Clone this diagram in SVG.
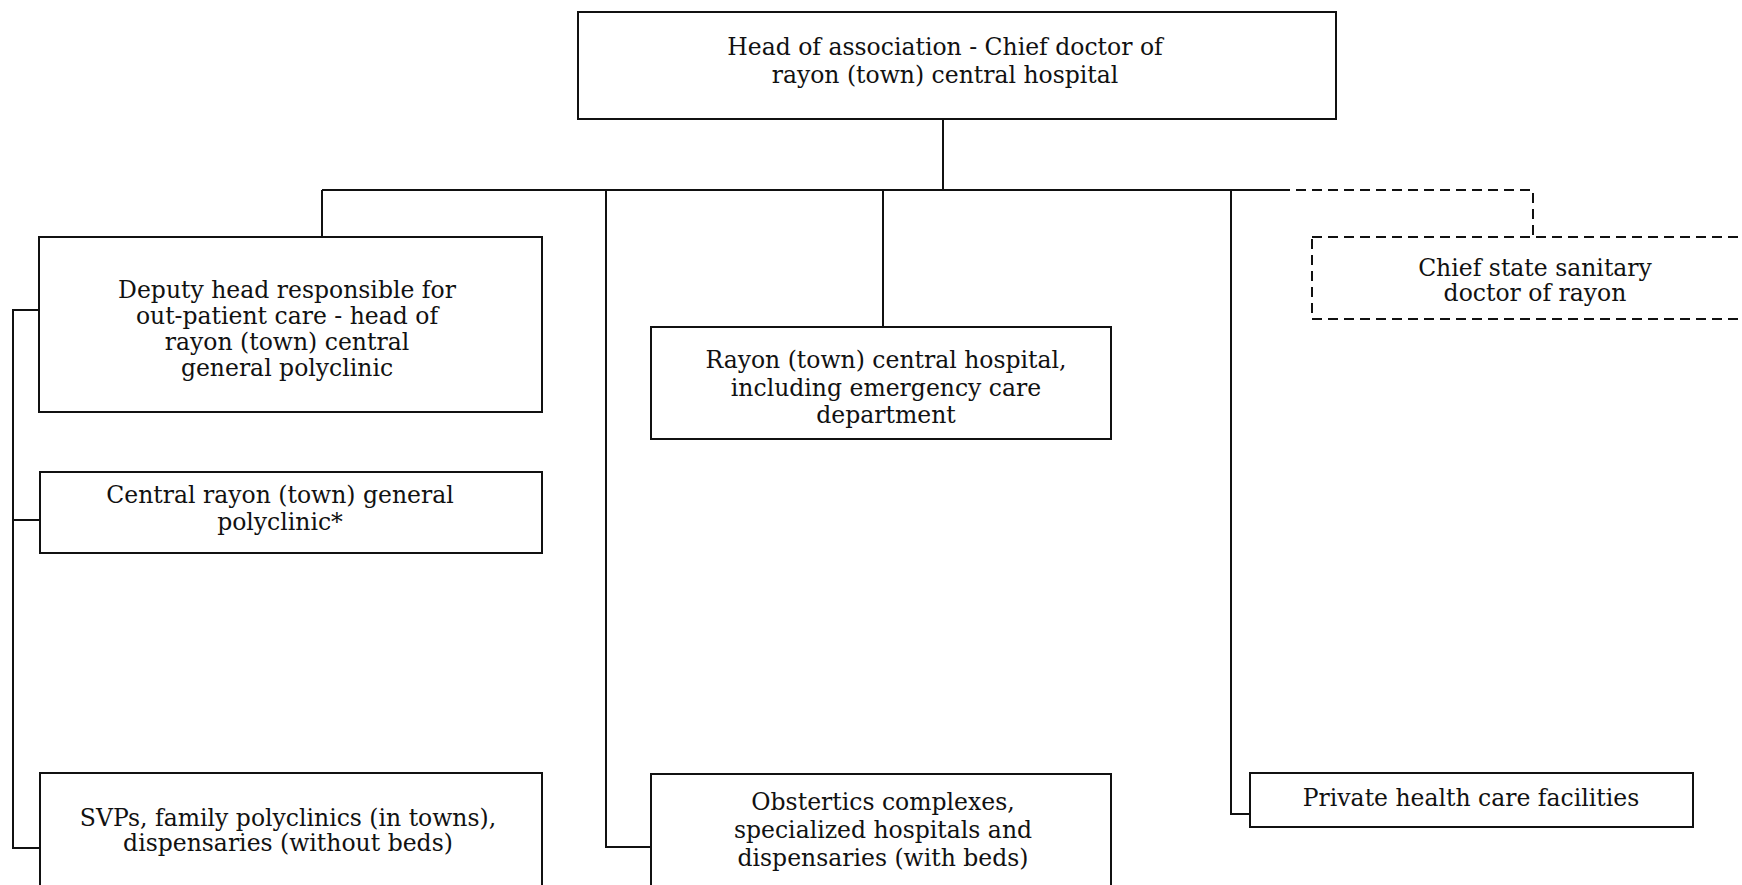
<svg xmlns="http://www.w3.org/2000/svg" width="1742" height="885" viewBox="0 0 1742 885">
  <style>
    .box { fill: #ffffff; stroke: #111111; stroke-width: 2; }
    .dash { fill: #ffffff; stroke: #111111; stroke-width: 2; stroke-dasharray: 10 6; }
    .wire { fill: none; stroke: #111111; stroke-width: 2; }
    .wire-dash { fill: none; stroke: #111111; stroke-width: 2; stroke-dasharray: 10 6; }
    text { font-family: "DejaVu Serif", "Liberation Serif", serif; font-size: 23.5px; fill: #111111; text-anchor: middle; }
  </style>
  <rect width="1742" height="885" fill="#ffffff"/>

  <!-- connectors -->
  <g id="connectors">
    <path class="wire" d="M943 119 V190"/>
    <path class="wire" d="M322 190 H1280"/>
    <path class="wire-dash" d="M1280 190 H1533 V237"/>
    <path class="wire" d="M322 190 V237"/>
    <path class="wire" d="M606 190 V847 H651"/>
    <path class="wire" d="M883 190 V327"/>
    <path class="wire" d="M1231 190 V814 H1250"/>
    <path class="wire" d="M39 310 H13 V848 H40"/>
    <path class="wire" d="M13 520 H40"/>
  </g>

  <!-- head of association -->
  <g id="head">
    <rect class="box" x="578" y="12" width="758" height="107"/>
    <text x="945" y="55">Head of association - Chief doctor of</text>
    <text x="945" y="83">rayon (town) central hospital</text>
  </g>

  <!-- deputy head -->
  <g id="deputy">
    <rect class="box" x="39" y="237" width="503" height="175"/>
    <text x="287" y="298">Deputy head responsible for</text>
    <text x="287" y="324">out-patient care - head of</text>
    <text x="287" y="350">rayon (town) central</text>
    <text x="287" y="376">general polyclinic</text>
  </g>

  <!-- central polyclinic -->
  <g id="central-polyclinic">
    <rect class="box" x="40" y="472" width="502" height="81"/>
    <text x="280" y="503">Central rayon (town) general</text>
    <text x="280" y="530">polyclinic*</text>
  </g>

  <!-- SVPs -->
  <g id="svps">
    <rect class="box" x="40" y="773" width="502" height="140"/>
    <text x="288" y="826">SVPs, family polyclinics (in towns),</text>
    <text x="288" y="851">dispensaries (without beds)</text>
  </g>

  <!-- central hospital -->
  <g id="central-hospital">
    <rect class="box" x="651" y="327" width="460" height="112"/>
    <text x="886" y="368">Rayon (town) central hospital,</text>
    <text x="886" y="396">including emergency care</text>
    <text x="886" y="423">department</text>
  </g>

  <!-- obstetrics -->
  <g id="obstetrics">
    <rect class="box" x="651" y="774" width="460" height="140"/>
    <text x="883" y="810">Obstertics complexes,</text>
    <text x="883" y="838">specialized hospitals and</text>
    <text x="883" y="866">dispensaries (with beds)</text>
  </g>

  <!-- sanitary doctor -->
  <g id="sanitary">
    <rect class="dash" x="1312" y="237" width="460" height="82"/>
    <text x="1535" y="276">Chief state sanitary</text>
    <text x="1535" y="301">doctor of rayon</text>
  </g>

  <!-- private facilities -->
  <g id="private">
    <rect class="box" x="1250" y="773" width="443" height="54"/>
    <text x="1471" y="806">Private health care facilities</text>
  </g>
</svg>
